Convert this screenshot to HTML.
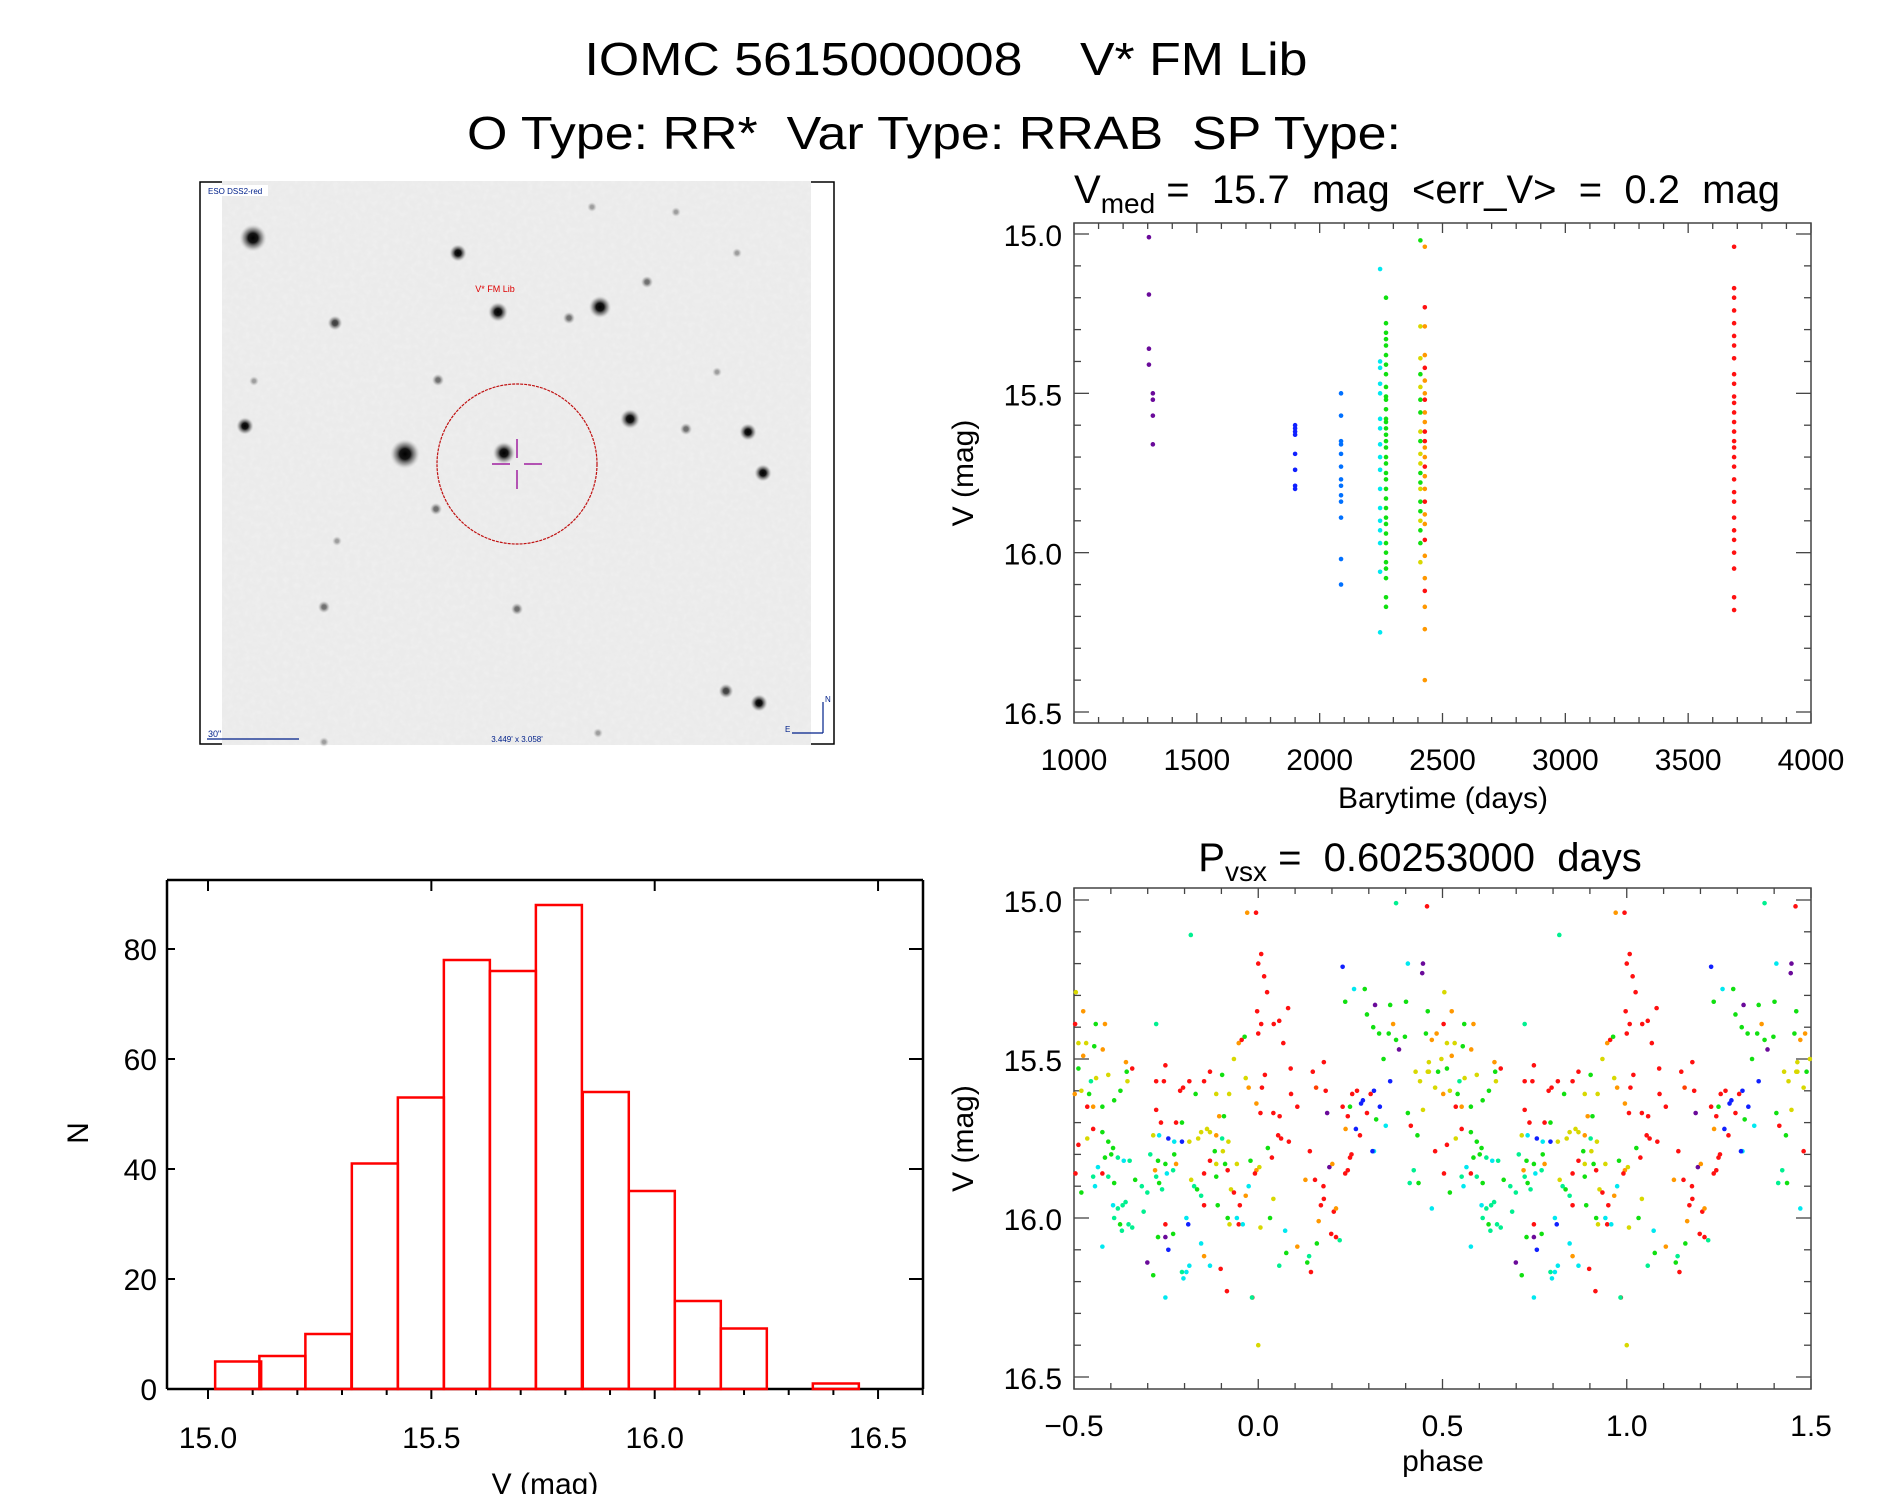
<!DOCTYPE html>
<html><head><meta charset="utf-8">
<style>
html,body{margin:0;padding:0;background:#fff;}
svg{display:block;font-family:"Liberation Sans","DejaVu Sans",sans-serif;}
</style></head>
<body>
<svg id="fig" width="1889" height="1494" viewBox="0 0 1889 1494" xmlns="http://www.w3.org/2000/svg">
<defs>
<filter id="noise" x="0" y="0" width="100%" height="100%">
<feTurbulence type="fractalNoise" baseFrequency="0.18" numOctaves="2" seed="3"/>
<feColorMatrix type="matrix" values="0 0 0 0 0.90  0 0 0 0 0.90  0 0 0 0 0.90  0 0 0 -0.9 0.55"/>
</filter>
<radialGradient id="star"><stop offset="0" stop-color="#000"/><stop offset="0.35" stop-color="#151515"/><stop offset="0.7" stop-color="#777" stop-opacity="0.6"/><stop offset="1" stop-color="#ccc" stop-opacity="0"/></radialGradient>
</defs>
<text x="946" y="75" font-size="46" text-anchor="middle" textLength="723" lengthAdjust="spacingAndGlyphs" xml:space="preserve">IOMC 5615000008    V* FM Lib</text>
<text x="934" y="149" font-size="46" text-anchor="middle" textLength="934" lengthAdjust="spacingAndGlyphs" xml:space="preserve">O Type: RR*  Var Type: RRAB  SP Type:</text>

<g id="sky">
<rect x="200" y="182" width="634" height="562" fill="none" stroke="#000" stroke-width="1.5"/>
<rect x="222" y="181" width="589" height="564" fill="#ebebeb"/>
<rect x="222" y="181" width="589" height="564" filter="url(#noise)"/>
<g id="stars"></g>
<circle cx="517" cy="464" r="80" fill="none" stroke="#c01010" stroke-width="1.2" stroke-dasharray="3 1"/>
<g stroke="#a020a0" stroke-width="1.5">
<line x1="492" y1="464" x2="510" y2="464"/><line x1="524" y1="464" x2="542" y2="464"/>
<line x1="517" y1="439" x2="517" y2="458"/><line x1="517" y1="470" x2="517" y2="489"/>
</g>
<text x="495" y="292" font-size="9" fill="#d00" text-anchor="middle">V* FM Lib</text>
<rect x="206" y="185" width="62" height="11" fill="#fff"/>
<text x="208" y="194" font-size="8" fill="#00208a">ESO DSS2-red</text>
<text x="208" y="737" font-size="9" fill="#00208a">30"</text>
<line x1="207" y1="739" x2="299" y2="739" stroke="#00208a" stroke-width="1.2"/>
<text x="517" y="742" font-size="8" fill="#00208a" text-anchor="middle">3.449' x 3.058'</text>
<g stroke="#00208a" stroke-width="1.2" fill="none">
<line x1="823" y1="733" x2="823" y2="702"/><line x1="823" y1="733" x2="792" y2="733"/>
</g>
<text x="825" y="702" font-size="8" fill="#00208a">N</text>
<text x="785" y="732" font-size="8" fill="#00208a">E</text>
</g>

<g id="lc"></g>
<g id="ph"></g>
<g id="hist"></g>
</svg>
<script>
// ---------- data ----------
const starX=[253,458,335,498,600,569,647,676,737,592,438,717,245,405,504,630,686,748,763,436,324,517,726,759,598,324,254,337];
const starY=[238,253,323,312,307,318,282,212,253,207,380,372,426,454,453,419,429,432,473,509,607,609,691,703,733,742,381,541];
const starR=[11,7,6,8,9,5,5,4,4,4,5,4,7,12,9,8,5,7,7,5,5,5,6,7,4,4,4,4];

// light curve (barytime, V mag, color code)
const lcTimes=[1305,1305,1305,1305,1321,1321,1321,1321,
 1900,1900,1900,1900,1900,1900,1900,1900,
 2087,2087,2087,2087,2087,2087,2087,2087,2087,2087,2087,2087,2087];
const lcMags=[15.01,15.19,15.36,15.41,15.50,15.52,15.57,15.66,
 15.60,15.61,15.62,15.63,15.69,15.74,15.79,15.80,
 15.50,15.57,15.65,15.66,15.69,15.73,15.77,15.79,15.82,15.84,15.89,16.02,16.10];
const lcColors="ppppppppbbbbbbbbBBBBBBBBBBBBB".split('');
const cyanTimes=2246;
const cyanMags=[15.11,15.40,15.42,15.47,15.50,15.58,15.61,15.66,15.70,15.74,15.80,15.86,15.90,15.93,15.97,16.06,16.25];
const greenTime=2270;
const greenMags=[15.20,15.28,15.31,15.33,15.35,15.38,15.41,15.44,15.48,15.51,15.52,15.55,15.58,15.59,15.61,15.63,15.65,15.67,15.70,15.72,15.75,15.77,15.80,15.83,15.86,15.89,15.91,15.94,15.97,16.00,16.03,16.05,16.08,16.14,16.17];
const yellowTime=2410;
const yellowMags=[15.02,15.29,15.39,15.44,15.48,15.52,15.56,15.62,15.65,15.69,15.72,15.75,15.78,15.80,15.84,15.87,15.90,15.93,15.97,16.03];
const yellowColors="gyygyggygyyggyggyggy".split('');
const orangeTime=2428;
const orangeMags=[15.04,15.23,15.29,15.38,15.42,15.46,15.50,15.52,15.56,15.59,15.62,15.65,15.67,15.70,15.73,15.76,15.80,15.84,15.88,15.91,15.96,16.01,16.08,16.12,16.17,16.24,16.40];
const orangeColors="oroorooroorrooroorooroorooo".split('');
const redTime=3687;
const redMags=[15.04,15.17,15.20,15.24,15.28,15.32,15.35,15.39,15.44,15.47,15.51,15.53,15.56,15.59,15.62,15.65,15.67,15.70,15.73,15.77,15.81,15.84,15.89,15.93,15.96,16.00,16.05,16.14,16.18];

// phased curve (phase in [0,1), V mag, color code)
const phPhases=[0.000,0.008,0.016,0.024,0.994,0.970,0.997,0.008,0.000,0.042,0.057,0.068,0.081,0.088,0.018,0.010,0.995,0.006,0.041,0.058,0.054,0.062,0.083,0.089,0.106,0.026,0.037,0.003,0.995,0.041,0.032,0.006,0.073,0.057,0.076,0.000,0.984,0.106,0.133,0.143,0.138,0.159,0.164,0.170,0.178,0.177,0.128,0.154,0.140,0.198,0.211,0.221,0.205,0.211,0.148,0.157,0.183,0.178,0.187,0.193,0.201,0.236,0.243,0.249,0.253,0.237,0.265,0.243,0.229,0.249,0.255,0.276,0.279,0.268,0.284,0.295,0.305,0.314,0.320,0.330,0.340,0.358,0.346,0.314,0.310,0.229,0.236,0.260,0.289,0.295,0.317,0.358,0.312,0.328,0.354,0.366,0.382,0.398,0.374,0.374,0.406,0.401,0.447,0.445,0.458,0.460,0.525,0.505,0.503,0.559,0.584,0.455,0.484,0.471,0.512,0.533,0.555,0.578,0.525,0.497,0.463,0.427,0.463,0.488,0.512,0.546,0.560,0.593,0.439,0.460,0.480,0.502,0.520,0.536,0.552,0.577,0.541,0.609,0.626,0.643,0.645,0.658,0.641,0.406,0.447,0.414,0.432,0.480,0.512,0.536,0.552,0.577,0.593,0.606,0.584,0.601,0.619,0.635,0.651,0.565,0.504,0.552,0.577,0.593,0.609,0.422,0.435,0.411,0.520,0.557,0.471,0.577,0.606,0.619,0.632,0.640,0.609,0.625,0.630,0.648,0.658,0.689,0.684,0.666,0.699,0.720,0.723,0.707,0.728,0.748,0.752,0.769,0.731,0.739,0.772,0.777,0.715,0.731,0.756,0.772,0.793,0.813,0.845,0.837,0.861,0.869,0.886,0.902,0.894,0.907,0.919,0.882,0.904,0.910,0.886,0.869,0.917,0.942,0.853,0.886,0.818,0.826,0.834,0.853,0.890,0.926,0.934,0.917,0.922,0.942,0.947,0.958,0.950,0.966,0.974,0.991,0.979,0.902,0.934,0.974,0.966,0.947,0.955,0.963,0.921,0.886,0.869,0.853,0.813,0.796,0.788,0.748,0.744,0.723,0.723,0.736,0.830,0.793,0.777,0.769,0.748,0.715,0.699,0.728,0.748,0.756,0.748,0.793,0.805,0.797,0.813,0.853,0.869,0.898,0.915,0.983,0.805,0.810,0.845,0.845,0.817,0.723];
const phMags=[15.20,15.17,15.24,15.29,15.04,15.04,15.35,15.39,15.42,15.39,15.38,15.45,15.34,15.53,15.55,15.59,15.64,15.67,15.67,15.68,15.74,15.75,15.76,15.61,15.65,15.78,15.81,15.84,15.85,15.94,16.00,16.03,16.04,16.15,16.11,16.40,16.25,16.09,16.14,16.17,16.12,16.08,16.01,15.96,15.94,15.90,15.88,15.88,15.79,16.05,16.06,16.07,15.98,15.97,15.54,15.59,15.60,15.51,15.67,15.84,15.83,15.86,15.85,15.81,15.80,15.72,15.72,15.68,15.65,15.65,15.61,15.74,15.64,15.60,15.63,15.67,15.61,15.60,15.69,15.65,15.50,15.57,15.71,15.79,15.79,15.21,15.32,15.28,15.28,15.36,15.33,15.33,15.40,15.42,15.42,15.39,15.47,15.43,15.44,15.01,15.20,15.32,15.20,15.23,15.02,15.35,15.35,15.29,15.39,15.39,15.39,15.42,15.42,15.44,15.45,15.45,15.46,15.47,15.49,15.50,15.51,15.54,15.54,15.54,15.53,15.57,15.56,15.55,15.57,15.54,15.59,15.61,15.60,15.65,15.65,15.65,15.61,15.63,15.60,15.54,15.57,15.53,15.51,15.67,15.66,15.71,15.74,15.79,15.77,15.75,15.72,15.73,15.76,15.78,15.81,15.80,15.81,15.82,15.82,15.84,15.86,15.87,15.86,15.87,15.89,15.85,15.89,15.89,15.92,15.90,15.97,16.09,15.96,15.97,15.96,15.95,16.00,16.02,16.04,16.02,16.03,15.98,15.90,15.88,15.92,15.85,15.87,15.80,15.82,15.83,15.86,15.85,15.89,15.91,15.80,15.83,15.74,15.74,15.75,15.76,15.76,15.76,15.73,15.75,15.72,15.73,15.74,15.75,15.68,15.68,15.76,15.79,15.79,15.83,15.83,15.82,15.85,15.83,15.86,15.87,15.88,15.90,15.91,15.96,15.96,15.91,15.92,16.00,16.02,16.00,16.02,16.02,15.96,15.93,15.90,15.86,15.82,15.55,15.50,15.59,15.56,15.45,15.44,15.43,15.61,15.61,15.54,15.57,15.57,15.59,15.60,15.52,15.57,15.57,15.66,15.70,15.61,15.70,15.70,16.05,16.02,16.18,16.14,16.06,16.06,16.10,16.25,16.17,16.17,16.19,16.15,16.12,16.15,16.16,16.23,16.25,16.00,16.02,16.08,15.93,15.11,15.39];
const phColors="rrrrrorrrrrrrrrrorrrrrrrrgryoygycsgyrogrsgorrrorrrrsrormrrpporrrrobrrgrrbrbrrbgbgbccbbgcggpggggopggscgpprgoyrgogooyygooyyyyggsyyyyyoyrogggggyrogyrgrryrgggggscscrsrsgsgsgccccssssgsssssgsossggcsgsgoycbcbyyyyyosogygygyrryrgysgrgyrgycrcrocrggyoyorgyyrrrrrrrrrrggrgrgpgpbcscccocrrscbcssssorrrooocococg".split('');

// histogram
const binLo=[15.016,15.115,15.218,15.322,15.425,15.528,15.631,15.734,15.839,15.942,16.045,16.148,16.251,16.354];
const binCounts=[5,6,10,41,53,78,76,88,54,36,16,11,0,1];
const binWidth=0.103;
const histYTicks=[0,20,40,60,80];
const histXTicks=[15.0,15.5,16.0,16.5];
const lcXTicks=[1000,1500,2000,2500,3000,3500,4000];
const magTicks=["15.0","15.5","16.0","16.5"];
const phXTicks=[-0.5,0.0,0.5,1.0,1.5];

// ---------- helpers ----------
const NS="http://www.w3.org/2000/svg";
const COL={p:"#6a0a9a",b:"#1020ff",B:"#0070ff",c:"#00e8f0",s:"#00f090",g:"#10e010",y:"#d8d800",o:"#ff9800",r:"#ff1010",m:"#ff4000"};
function mk(tag,attrs,parent){const e=document.createElementNS(NS,tag);for(const k in attrs)e.setAttribute(k,attrs[k]);parent.appendChild(e);return e;}
function txt(parent,x,y,s,size,anchor,extra){const t=mk('text',Object.assign({x:x,y:y,'font-size':size,'text-anchor':anchor||'middle'},extra||{}),parent);t.textContent=s;return t;}

// stars
const sg=document.getElementById('stars');
for(let i=0;i<starX.length;i++){
  const r=starR[i];
  const c=mk('circle',{cx:starX[i],cy:starY[i],r:r*1.25,fill:'url(#star)',opacity:(r<=4?0.35:(r<=5?0.55:(r<=6?0.75:1)))},sg);
  
  
}

// ---------- magnitude axes panel ----------
function magPanel(g,L,R,T,B,y15,y165,xmin,xmax,xMajor,xMinor,xLabels,xFmt){
  const ys=m=>y15+(m-15)*(y165-y15)/1.5;
  const xs=v=>L+(v-xmin)/(xmax-xmin)*(R-L);
  const ax=mk('rect',{x:L,y:T,width:R-L,height:B-T,fill:'none',stroke:'#444','stroke-width':1.5},g);
  
  
  for(let k=0;k<=15;k++){const m=15+k*0.1;const y=ys(m);const len=(k%5===0)?15:7;
    mk('line',{x1:L,y1:y,x2:L+len,y2:y,stroke:'#444','stroke-width':1.3},g);
    mk('line',{x1:R,y1:y,x2:R-len,y2:y,stroke:'#444','stroke-width':1.3},g);}
  for(let v=xmin;v<=xmax+1e-9;v+=xMinor){const x=xs(v);const maj=Math.abs(Math.round(v/xMajor)*xMajor-v)<1e-6;const len=maj?10:6;
    mk('line',{x1:x,y1:B,x2:x,y2:B-len,stroke:'#444','stroke-width':1.3},g);
    mk('line',{x1:x,y1:T,x2:x,y2:T+len,stroke:'#444','stroke-width':1.3},g);}
  magTicks.forEach(s=>{const t=txt(g,1062,ys(parseFloat(s))+12,s,30,'end');
    
    });
  xLabels.forEach(v=>{const t=txt(g,xs(v),B+47,xFmt(v),30,'middle');
    
    });
  const yt=txt(g,0,0,'V (mag)',30,'middle',{transform:`translate(973,${(T+B)/2}) rotate(-90)`});
  
  
  return {xs,ys};
}

// light curve
const lc=document.getElementById('lc');
const A=magPanel(lc,1074,1811,223,723,234,712,1000,4000,500,100,lcXTicks,v=>String(v));
const t1=txt(lc,1427,203,'',40,'middle');
t1.innerHTML='V<tspan font-size="28" dy="10">med</tspan><tspan dy="-10" xml:space="preserve"> =  15.7  mag  &lt;err_V&gt;  =  0.2  mag</tspan>';


t1.setAttribute('xml:space','preserve');
const xt1=txt(lc,1443,808,'Barytime (days)',30,'middle');


function dot(g,x,y,c){const d=mk('circle',{cx:x,cy:y,r:2.3,fill:COL[c]},g);
  
  }
lcTimes.forEach((t,i)=>dot(lc,A.xs(t),A.ys(lcMags[i]),lcColors[i]));
cyanMags.forEach(m=>dot(lc,A.xs(cyanTimes),A.ys(m),'c'));
greenMags.forEach(m=>dot(lc,A.xs(greenTime),A.ys(m),'g'));
yellowMags.forEach((m,i)=>dot(lc,A.xs(yellowTime),A.ys(m),yellowColors[i]));
orangeMags.forEach((m,i)=>dot(lc,A.xs(orangeTime),A.ys(m),orangeColors[i]));
redMags.forEach(m=>dot(lc,A.xs(redTime),A.ys(m),'r'));

// phased curve
const ph=document.getElementById('ph');
const P=magPanel(ph,1074,1811,888,1389,900,1377,-0.5,1.5,0.5,0.1,phXTicks,v=>(v<0?'\u22120.5':v.toFixed(1)));
const t2=txt(ph,1420,871,'',40,'middle');
t2.innerHTML='P<tspan font-size="28" dy="10">vsx</tspan><tspan dy="-10" xml:space="preserve"> =  0.60253000  days</tspan>';


t2.setAttribute('xml:space','preserve');
const xt2=txt(ph,1443,1471,'phase',30,'middle');


phPhases.forEach((p,i)=>{
  [p-1,p,p+1].forEach(q=>{ if(q>=-0.5&&q<=1.5) dot(ph,P.xs(q),P.ys(phMags[i]),phColors[i]||'g'); });
});

// histogram
const hg=document.getElementById('hist');
const HL=167,HR=923,HT=880,HB=1389;
const hx=v=>208+(v-15)*446.7;
const hy=n=>HB-n*5.5;
mk('line',{x1:HL,y1:HT,x2:HR,y2:HT,stroke:'#000','stroke-width':2.5},hg);
mk('line',{x1:HL,y1:HT,x2:HL,y2:HB,stroke:'#000','stroke-width':2.5},hg);
mk('line',{x1:HR,y1:HT,x2:HR,y2:HB,stroke:'#000','stroke-width':2.5},hg);
mk('line',{x1:HL,y1:HB,x2:HR,y2:HB,stroke:'#000','stroke-width':2.5},hg);
for(let k=0;k<=16;k++){const v=15+k*0.1;const x=hx(v);const maj=k%5===0;
  mk('line',{x1:x,y1:HB,x2:x,y2:HB+(maj?10:6),stroke:'#000','stroke-width':2},hg);
  if(maj) mk('line',{x1:x,y1:HT,x2:x,y2:HT+11,stroke:'#000','stroke-width':2},hg);}
histYTicks.forEach(n=>{
  mk('line',{x1:HR,y1:hy(n),x2:HR-14,y2:hy(n),stroke:'#000','stroke-width':2},hg);
  mk('line',{x1:HL,y1:hy(n),x2:HL+8,y2:hy(n),stroke:'#000','stroke-width':2},hg);
  const t=txt(hg,157,hy(n)+11,String(n),30,'end');
  
  
});
histXTicks.forEach(v=>{const t=txt(hg,hx(v),1448,v.toFixed(1),30,'middle');
  
  });
binLo.forEach((lo,i)=>{
  const b=mk('rect',{x:hx(lo),y:hy(binCounts[i]),width:binWidth*446.7,height:binCounts[i]*5.5,fill:'none',stroke:'#ff0000','stroke-width':2.5},hg);
  
  
});
const hxt=txt(hg,545,1494,'V (mag)',30,'middle');


const hyt=txt(hg,0,0,'N',30,'middle',{transform:'translate(88,1133) rotate(-90)'});


</script>
</body></html>
